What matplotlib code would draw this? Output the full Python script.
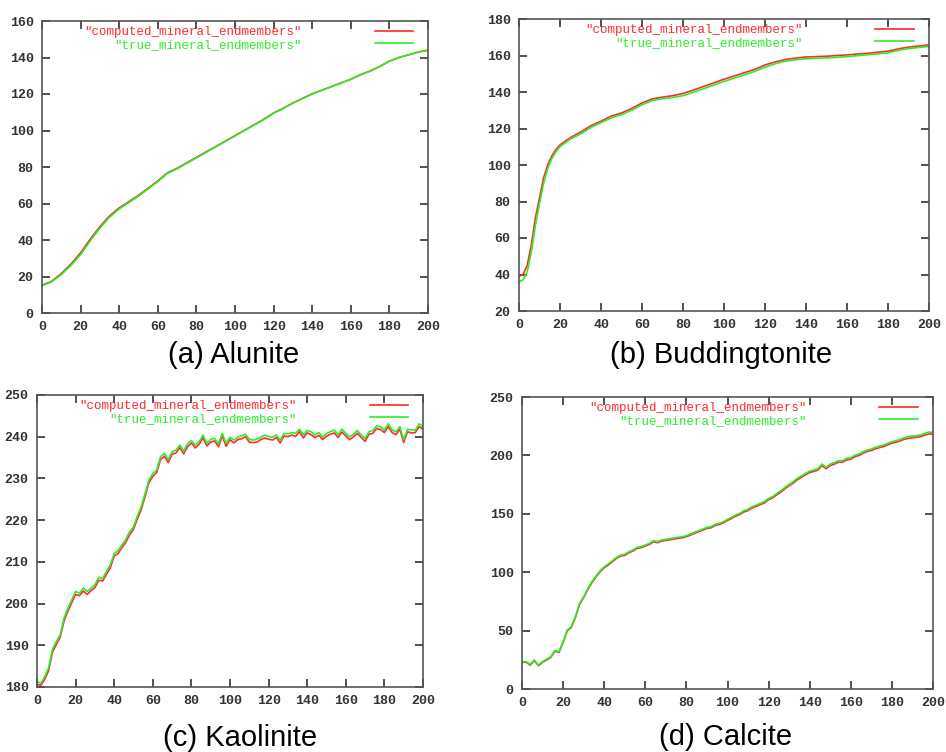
import numpy as np
import matplotlib.pyplot as plt

# colours used by the original gnuplot output
RED = '#ff2a2a'
GREEN = '#2aee2a'

LABEL_COMP = '"computed_mineral_endmembers"'
LABEL_TRUE = '"true_mineral_endmembers"'

# (a) Alunite
x_alu = list(range(0, 201, 5))
alu_true = [15, 17, 21, 26, 32, 39.5, 46.5, 52.5, 57, 60.5, 64, 68, 72, 76.5, 79, 82,
            85, 88, 91, 94, 97, 100, 103, 106, 109.5, 112, 115, 117.5, 120, 122, 124,
            126, 128, 130.5, 132.5, 135, 138, 140, 141.5, 143, 144]
alu_comp = [15.2, 17.4, 21.6, 26.8, 33, 40.5, 47.3, 53.2, 57.6, 61, 64.5, 68.4, 72.4,
            76.8, 79.3, 82.3, 85.3, 88.3, 91.2, 94.2, 97.2, 100.2, 103.2, 106.2, 109.6,
            112.2, 115.1, 117.6, 120.1, 122.1, 124.1, 126.1, 128.1, 130.6, 132.6, 135.1,
            138, 140, 141.5, 143, 144]

# (b) Buddingtonite
x_bud = [0, 2, 4, 6, 8, 10, 12, 14, 16, 18] + list(range(20, 201, 5))
bud_comp = [39, 40, 45, 56, 71, 82, 93, 100, 105, 108.5, 111, 115, 118, 121.5, 124,
            126.8, 128.5, 131, 134, 136.2, 137.2, 138, 139.2, 141, 143, 145, 147, 148.8,
            150.6, 152.4, 154.8, 156.5, 157.8, 158.6, 159.2, 159.4, 159.6, 160, 160.3,
            160.8, 161.2, 161.8, 162.4, 163.6, 164.6, 165.2, 165.8]
bud_true = [36, 37, 41.5, 52, 67, 79, 90, 98, 103.5, 107.3, 110, 114.2, 117, 120.5,
            123.2, 125.8, 127.6, 130, 133, 135.3, 136.3, 137, 138, 139.8, 141.8, 143.8,
            145.8, 147.6, 149.5, 151.3, 153.6, 155.5, 156.9, 157.7, 158.2, 158.5, 158.7,
            159, 159.4, 159.9, 160.4, 160.9, 161.5, 162.8, 163.8, 164.4, 165]

# (c) Kaolinite
x_kao = list(range(0, 201, 2))
kao_true = [181.3, 180.9, 182.5, 184.6, 189.0, 190.9, 192.5, 196.5, 198.9, 200.9,
            202.9, 202.5, 203.7, 202.9, 203.7, 204.5, 206.3, 206.0, 207.7, 209.3,
            212.0, 212.7, 214.0, 215.4, 217.2, 218.4, 221.0, 223.2, 226.4, 229.6,
            231.2, 232.0, 235.2, 236.0, 234.5, 236.4, 236.8, 238.0, 236.6, 238.3,
            239.1, 238.0, 238.8, 240.4, 238.4, 239.4, 239.6, 238.3, 240.8, 238.4,
            239.9, 239.2, 239.9, 240.2, 240.6, 239.4, 239.2, 239.4, 239.9, 240.4,
            240.0, 239.9, 240.4, 239.2, 240.8, 240.7, 241.0, 240.8, 241.8, 240.4,
            241.5, 241.2, 240.4, 241.0, 239.9, 240.8, 241.2, 241.6, 240.4, 241.8,
            240.8, 240.0, 240.6, 241.5, 240.4, 239.6, 241.2, 241.5, 242.6, 242.4,
            241.6, 243.1, 241.6, 241.2, 242.4, 239.3, 241.8, 241.6, 241.6, 243.1,
            242.4]
kao_comp = [180.6, 180.4, 181.8, 183.9, 188.3, 190.2, 191.9, 195.8, 198.2, 200.2,
            202.2, 201.9, 203.0, 202.2, 203.1, 203.8, 205.6, 205.4, 207.0, 208.6,
            211.4, 212.0, 213.4, 214.7, 216.5, 217.8, 220.3, 222.5, 225.7, 229.0,
            230.5, 231.4, 234.5, 235.3, 233.8, 235.8, 236.1, 237.4, 235.9, 237.6,
            238.5, 237.3, 238.2, 239.7, 237.8, 238.7, 239.0, 237.6, 240.2, 237.7,
            239.3, 238.5, 239.3, 239.5, 240.0, 238.7, 238.6, 238.7, 239.3, 239.7,
            239.4, 239.2, 239.8, 238.5, 240.2, 240.0, 240.4, 240.1, 241.2, 239.7,
            240.9, 240.5, 239.8, 240.3, 239.3, 240.1, 240.6, 240.9, 239.8, 241.1,
            240.2, 239.3, 240.0, 240.8, 239.8, 238.9, 240.6, 240.8, 242.0, 241.7,
            241.0, 242.4, 241.0, 240.5, 241.8, 238.6, 241.2, 240.9, 241.0, 242.4,
            241.8]

# (d) Calcite
x_cal = list(range(0, 201, 2))
cal_true = [23.4, 23.4, 21.0, 25.0, 20.5, 23.4, 25.5, 27.7, 33.0, 32.0, 40.5, 50.5,
            53.4, 62.0, 73.3, 79.0, 86.0, 91.9, 96.7, 101.3, 104.7, 107.0, 109.9, 112.7,
            114.7, 115.3, 117.6, 119.0, 121.3, 121.9, 123.3, 124.7, 127.0, 126.1, 127.6,
            128.1, 128.7, 129.3, 129.9, 130.4, 131.3, 132.7, 134.1, 135.6, 137.0, 138.4,
            139.0, 141.0, 141.8, 143.3, 145.3, 147.0, 149.0, 150.4, 152.7, 153.8, 156.1,
            157.5, 159.0, 160.4, 163.2, 164.7, 167.5, 169.8, 172.7, 175.2, 177.5, 180.4,
            182.4, 184.6, 186.6, 187.5, 188.6, 192.6, 189.8, 192.6, 193.8, 195.5, 195.5,
            197.5, 198.0, 200.3, 201.2, 203.2, 204.6, 205.5, 206.9, 208.0, 208.9, 210.3,
            211.8, 212.6, 213.8, 215.2, 216.0, 216.6, 216.9, 217.5, 218.9, 220.0, 219.5]
cal_comp = [22.8, 22.9, 20.4, 24.3, 19.9, 22.8, 24.8, 27.1, 32.4, 31.4, 39.8, 49.8,
            52.7, 61.2, 72.5, 78.2, 85.2, 91.0, 95.8, 100.4, 103.8, 106.1, 109.0, 111.8,
            113.8, 114.4, 116.7, 118.1, 120.4, 121.0, 122.4, 123.8, 126.1, 125.2, 126.7,
            127.2, 127.8, 128.4, 129.0, 129.5, 130.4, 131.8, 133.2, 134.7, 136.1, 137.5,
            138.0, 140.0, 140.8, 142.3, 144.3, 146.0, 148.0, 149.4, 151.6, 152.7, 155.0,
            156.4, 157.9, 159.3, 162.1, 163.6, 166.3, 168.6, 171.5, 174.0, 176.3, 179.2,
            181.2, 183.4, 185.4, 186.3, 187.4, 191.3, 188.6, 191.3, 192.5, 194.2, 194.2,
            196.2, 196.7, 199.0, 199.9, 201.9, 203.3, 204.2, 205.6, 206.7, 207.6, 209.0,
            210.5, 211.3, 212.4, 213.8, 214.6, 215.2, 215.5, 216.1, 217.4, 218.4, 218.2]

fig = plt.figure(figsize=(9.46, 7.52), dpi=100)


def panel(rect, x, comp, true, yticks, caption, cap_xy):
    ax = fig.add_axes(rect)
    ax.plot(x, comp, color=RED, lw=1.2, label=LABEL_COMP)
    ax.plot(x, true, color=GREEN, lw=1.2, label=LABEL_TRUE)
    ax.set_xlim(0, 200)
    ax.set_ylim(yticks[0], yticks[-1])
    ax.set_xticks(range(0, 201, 20))
    ax.set_yticks(yticks)
    ax.tick_params(direction='in', length=6, width=1.2, top=True, right=True,
                   color='#333333', labelcolor='#333333', labelsize=9.5, pad=6)
    for lab in ax.get_xticklabels() + ax.get_yticklabels():
        lab.set_fontfamily('Liberation Mono')
        lab.set_fontweight('bold')
    for s in ax.spines.values():
        s.set_color('#555555')
        s.set_linewidth(1.2)
    ax.legend(loc='upper right', bbox_to_anchor=(0.975, 1.0), borderaxespad=0,
              frameon=False, markerfirst=False, handlelength=3.1, handletextpad=5.8,
              labelspacing=0.05, labelcolor='linecolor',
              prop={'family': 'Liberation Mono', 'size': 9})
    fig.text(cap_xy[0], cap_xy[1], caption, ha='center', va='center',
             fontsize=21, family='Liberation Sans')
    return ax


W, H = 946, 752


def rect(l, t, r, b):
    return [l / W, 1 - b / H, (r - l) / W, (b - t) / H]


panel(rect(42, 21, 428, 313), x_alu, alu_comp, alu_true, list(range(0, 161, 20)),
      '(a) Alunite', (234 / W, 1 - 355 / H))
panel(rect(519, 19, 929, 311), x_bud, bud_comp, bud_true, list(range(20, 181, 20)),
      '(b) Buddingtonite', (721 / W, 1 - 355 / H))
panel(rect(37, 395, 423, 687), x_kao, kao_comp, kao_true, list(range(180, 251, 10)),
      '(c) Kaolinite', (240 / W, 1 - 738 / H))
panel(rect(522, 397, 933, 689), x_cal, cal_comp, cal_true, list(range(0, 251, 50)),
      '(d) Calcite', (726 / W, 1 - 737 / H))

fig.savefig('out.png', dpi=100)
